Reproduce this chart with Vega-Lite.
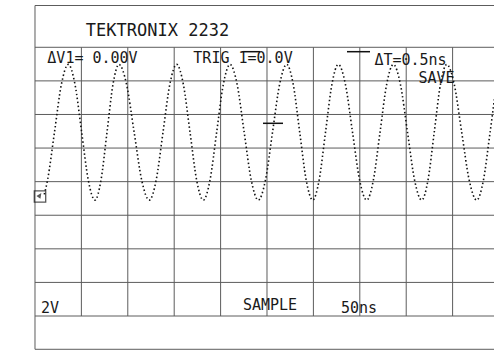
{
  "$schema": "https://vega.github.io/schema/vega-lite/v6.json",
  "width": 494,
  "height": 350,
  "autosize": {"type": "fit", "contains": "padding"},
  "padding": 0,
  "background": "#ffffff",
  "config": {"view": {"stroke": null}},
  "datasets": {
    "lines": [
      {"x": 0, "y": -0.991, "x2": 0, "y2": 9.244},
      {"x": 0, "y": 9.244, "x2": 10, "y2": 9.244},
      {"x": 0, "y": -0.991, "x2": 10, "y2": -0.991},
      {"x": 0, "y": 0, "x2": 10, "y2": 0},
      {"x": 0, "y": 1, "x2": 10, "y2": 1},
      {"x": 0, "y": 2, "x2": 10, "y2": 2},
      {"x": 0, "y": 3, "x2": 10, "y2": 3},
      {"x": 0, "y": 4, "x2": 10, "y2": 4},
      {"x": 0, "y": 5, "x2": 10, "y2": 5},
      {"x": 0, "y": 6, "x2": 10, "y2": 6},
      {"x": 0, "y": 7, "x2": 10, "y2": 7},
      {"x": 0, "y": 8, "x2": 10, "y2": 8},
      {"x": 1, "y": 0, "x2": 1, "y2": 8},
      {"x": 2, "y": 0, "x2": 2, "y2": 8},
      {"x": 3, "y": 0, "x2": 3, "y2": 8},
      {"x": 4, "y": 0, "x2": 4, "y2": 8},
      {"x": 5, "y": 0, "x2": 5, "y2": 8},
      {"x": 6, "y": 0, "x2": 6, "y2": 8},
      {"x": 7, "y": 0, "x2": 7, "y2": 8},
      {"x": 8, "y": 0, "x2": 8, "y2": 8},
      {"x": 9, "y": 0, "x2": 9, "y2": 8}
    ],
    "bars": [
      {"x": 4.483, "y": 7.869, "x2": 4.849, "y2": 7.869},
      {"x": 6.724, "y": 7.869, "x2": 7.22, "y2": 7.869},
      {"x": 4.914, "y": 5.737, "x2": 5.345, "y2": 5.737}
    ],
    "labels": [
      {"label": "ΔV1= 0.00V", "x": 1.239, "y": 7.533},
      {"label": "TRIG 1=0.0V", "x": 4.483, "y": 7.533},
      {"label": "ΔT=0.5ns", "x": 8.093, "y": 7.47},
      {"label": "SAVE", "x": 8.653, "y": 6.93},
      {"label": "2V", "x": 0.323, "y": 0.104},
      {"label": "SAMPLE", "x": 5.065, "y": 0.179},
      {"label": "50ns", "x": 6.983, "y": 0.089}
    ],
    "title": [
      {"label": "TEKTRONIX 2232", "x": 2.64, "y": 8.336}
    ],
    "ground": [
      {"x": 0.108, "y": 3.558}
    ],
    "wave": [
      {"x": 0.2, "y": 3.62},
      {"x": 0.27, "y": 4.042},
      {"x": 0.42, "y": 5.47},
      {"x": 0.569, "y": 6.898},
      {"x": 0.718, "y": 7.49},
      {"x": 0.862, "y": 6.898},
      {"x": 1.006, "y": 5.47},
      {"x": 1.149, "y": 4.042},
      {"x": 1.293, "y": 3.45},
      {"x": 1.422, "y": 4.042},
      {"x": 1.552, "y": 5.47},
      {"x": 1.681, "y": 6.898},
      {"x": 1.81, "y": 7.49},
      {"x": 1.973, "y": 6.898},
      {"x": 2.137, "y": 5.47},
      {"x": 2.3, "y": 4.042},
      {"x": 2.463, "y": 3.45},
      {"x": 2.611, "y": 4.042},
      {"x": 2.759, "y": 5.47},
      {"x": 2.906, "y": 6.898},
      {"x": 3.054, "y": 7.49},
      {"x": 3.197, "y": 6.898},
      {"x": 3.341, "y": 5.47},
      {"x": 3.484, "y": 4.042},
      {"x": 3.627, "y": 3.45},
      {"x": 3.771, "y": 4.042},
      {"x": 3.915, "y": 5.47},
      {"x": 4.059, "y": 6.898},
      {"x": 4.203, "y": 7.49},
      {"x": 4.356, "y": 6.898},
      {"x": 4.508, "y": 5.47},
      {"x": 4.661, "y": 4.042},
      {"x": 4.813, "y": 3.45},
      {"x": 4.966, "y": 4.042},
      {"x": 5.119, "y": 5.47},
      {"x": 5.272, "y": 6.898},
      {"x": 5.425, "y": 7.49},
      {"x": 5.565, "y": 6.898},
      {"x": 5.705, "y": 5.47},
      {"x": 5.845, "y": 4.042},
      {"x": 5.985, "y": 3.45},
      {"x": 6.123, "y": 4.042},
      {"x": 6.261, "y": 5.47},
      {"x": 6.399, "y": 6.898},
      {"x": 6.537, "y": 7.49},
      {"x": 6.69, "y": 6.898},
      {"x": 6.843, "y": 5.47},
      {"x": 6.996, "y": 4.042},
      {"x": 7.149, "y": 3.45},
      {"x": 7.292, "y": 4.042},
      {"x": 7.436, "y": 5.47},
      {"x": 7.579, "y": 6.898},
      {"x": 7.722, "y": 7.49},
      {"x": 7.875, "y": 6.898},
      {"x": 8.028, "y": 5.47},
      {"x": 8.181, "y": 4.042},
      {"x": 8.334, "y": 3.45},
      {"x": 8.469, "y": 4.042},
      {"x": 8.604, "y": 5.47},
      {"x": 8.738, "y": 6.898},
      {"x": 8.873, "y": 7.49},
      {"x": 9.035, "y": 6.898},
      {"x": 9.196, "y": 5.47},
      {"x": 9.358, "y": 4.042},
      {"x": 9.519, "y": 3.45},
      {"x": 9.664, "y": 4.042},
      {"x": 9.808, "y": 5.47},
      {"x": 9.953, "y": 6.898},
      {"x": 10.097, "y": 7.49}
    ]
  },
  "layer": [
    {
      "data": {"name": "lines"},
      "mark": {"type": "rule", "color": "#5c5c5c", "strokeWidth": 1, "clip": true},
      "encoding": {
        "x": {"field": "x", "type": "quantitative", "scale": {"domain": [-0.754, 9.892], "nice": false, "zero": false}, "axis": null},
        "y": {"field": "y", "type": "quantitative", "scale": {"domain": [-1.012, 9.408], "nice": false, "zero": false}, "axis": null},
        "x2": {"field": "x2"},
        "y2": {"field": "y2"}
      }
    },
    {
      "data": {"name": "bars"},
      "mark": {"type": "rule", "color": "#111111", "strokeWidth": 1.5, "clip": true},
      "encoding": {
        "x": {"field": "x", "type": "quantitative", "scale": {"domain": [-0.754, 9.892], "nice": false, "zero": false}, "axis": null},
        "y": {"field": "y", "type": "quantitative", "scale": {"domain": [-1.012, 9.408], "nice": false, "zero": false}, "axis": null},
        "x2": {"field": "x2"},
        "y2": {"field": "y2"}
      }
    },
    {
      "data": {"name": "wave"},
      "mark": {"type": "line", "color": "#111111", "strokeWidth": 1.6, "strokeDash": [1.5, 2.5], "interpolate": "monotone", "clip": true},
      "encoding": {
        "x": {"field": "x", "type": "quantitative", "scale": {"domain": [-0.754, 9.892], "nice": false, "zero": false}, "axis": null},
        "y": {"field": "y", "type": "quantitative", "scale": {"domain": [-1.012, 9.408], "nice": false, "zero": false}, "axis": null}
      }
    },
    {
      "data": {"name": "ground"},
      "mark": {"type": "point", "shape": "square", "size": 130, "filled": false, "color": "#111111", "strokeWidth": 1.3},
      "encoding": {
        "x": {"field": "x", "type": "quantitative", "scale": {"domain": [-0.754, 9.892], "nice": false, "zero": false}, "axis": null},
        "y": {"field": "y", "type": "quantitative", "scale": {"domain": [-1.012, 9.408], "nice": false, "zero": false}, "axis": null}
      }
    },
    {
      "data": {"name": "ground"},
      "mark": {"type": "point", "shape": "M -0.8 -0.1 L 0.3 -0.8 L 0.1 0.5 Z M -0.3 -0.3 L 0.8 0.8", "size": 80, "filled": true, "color": "#111111", "strokeWidth": 1.2},
      "encoding": {
        "x": {"field": "x", "type": "quantitative", "scale": {"domain": [-0.754, 9.892], "nice": false, "zero": false}, "axis": null},
        "y": {"field": "y", "type": "quantitative", "scale": {"domain": [-1.012, 9.408], "nice": false, "zero": false}, "axis": null}
      }
    },
    {
      "data": {"name": "labels"},
      "mark": {"type": "text", "font": "DejaVu Sans Mono", "fontSize": 15, "color": "#1a1a1a", "align": "center", "baseline": "alphabetic"},
      "encoding": {
        "x": {"field": "x", "type": "quantitative", "scale": {"domain": [-0.754, 9.892], "nice": false, "zero": false}, "axis": null},
        "y": {"field": "y", "type": "quantitative", "scale": {"domain": [-1.012, 9.408], "nice": false, "zero": false}, "axis": null},
        "text": {"field": "label"}
      }
    },
    {
      "data": {"name": "title"},
      "mark": {"type": "text", "font": "DejaVu Sans Mono", "fontSize": 17, "color": "#1a1a1a", "align": "center", "baseline": "alphabetic"},
      "encoding": {
        "x": {"field": "x", "type": "quantitative", "scale": {"domain": [-0.754, 9.892], "nice": false, "zero": false}, "axis": null},
        "y": {"field": "y", "type": "quantitative", "scale": {"domain": [-1.012, 9.408], "nice": false, "zero": false}, "axis": null},
        "text": {"field": "label"}
      }
    }
  ]
}
